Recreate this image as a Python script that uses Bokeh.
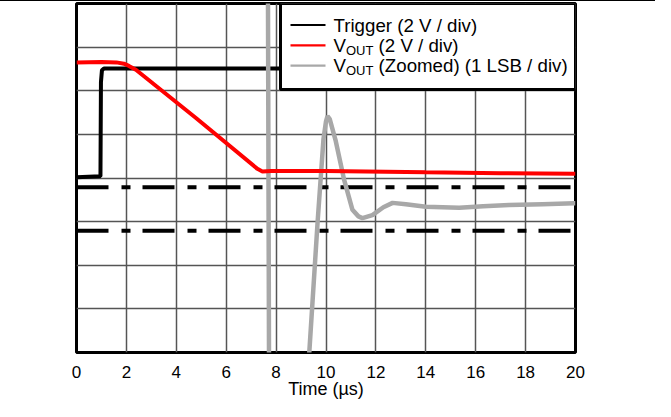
from bokeh.plotting import figure
from bokeh.models import FixedTicker, BoxAnnotation, Div, Range1d
from bokeh.layouts import column
from bokeh.core.properties import value
from bokeh.embed import file_html
from bokeh.resources import INLINE

# ---------------- data (time in µs, amplitude in screen divisions) ----------------
x_ticks = [0, 2, 4, 6, 8, 10, 12, 14, 16, 18, 20]
y_grid = [0, 1, 2, 3, 4, 5, 6, 7, 8]

trigger_t = [0.0, 0.96, 0.98, 1.02, 1.10, 20.0]
trigger_v = [4.02, 4.04, 6.20, 6.47, 6.51, 6.51]

vout_t = [0.0, 1.0, 1.6, 1.9, 2.1, 2.38, 4.8, 7.25, 7.45, 7.8, 10.0, 14.0, 17.0, 20.0]
vout_v = [6.65, 6.66, 6.65, 6.62, 6.57, 6.48, 5.37, 4.21, 4.15, 4.16, 4.16, 4.13, 4.11, 4.10]

zoom_t = [7.67, 7.72, 9.22, 9.33, 9.66, 9.90, 10.00, 10.06, 10.15, 10.39, 10.73,
          11.06, 11.30, 11.46, 11.86, 12.30, 12.67, 13.2, 14.0, 15.34, 16.3,
          17.34, 18.68, 19.95, 20.0]
zoom_v = [9.0, -1.0, -1.0, 0.0, 2.96, 4.9, 5.3, 5.42, 5.35, 4.85, 3.95,
          3.27, 3.12, 3.08, 3.15, 3.33, 3.43, 3.40, 3.34, 3.32, 3.35,
          3.38, 3.40, 3.42, 3.42]

band_levels = [3.79, 2.79]

x_title = "Time (µs)"
legend_texts = ["Trigger (2 V / div)", "(2 V / div)", "(Zoomed) (1 LSB / div)"]
legend_colors = ["black", "red", "#a8a8a8"]

FONT = "Liberation Sans"
X0, X1, Y0, Y1 = 0, 20, 0, 8
FRAME_W, FRAME_H = 499, 349

p = figure(width=655, height=400, x_range=Range1d(X0, X1), y_range=Range1d(Y0, Y1),
           output_backend="svg", toolbar_location=None,
           min_border_left=76, min_border_right=80, min_border_top=2, min_border_bottom=49)
p.background_fill_color = "white"
p.border_fill_color = "white"
p.outline_line_color = "black"
p.outline_line_width = 3

p.xgrid.ticker = FixedTicker(ticks=x_ticks)
p.ygrid.ticker = FixedTicker(ticks=y_grid)
p.grid.grid_line_color = "#555555"
p.grid.grid_line_width = 1.5
p.grid.grid_line_alpha = 1.0

p.yaxis.visible = False
ax = p.xaxis[0]
ax.ticker = FixedTicker(ticks=x_ticks)
ax.axis_line_color = None
ax.major_tick_line_color = None
ax.minor_tick_line_color = None
ax.major_label_standoff = 7
ax.major_label_text_font = FONT
ax.major_label_text_font_size = "17px"
ax.major_label_text_color = "black"
ax.axis_label = x_title
ax.axis_label_text_font = FONT
ax.axis_label_text_font_size = "18px"
ax.axis_label_text_font_style = "normal"
ax.axis_label_text_color = "black"
ax.axis_label_standoff = -2

PXX = (X1 - X0) / FRAME_W
PXY = (Y1 - Y0) / FRAME_H

# dash-dot error band
for lv in band_levels:
    p.line([X0, X1], [lv, lv], line_color="black", line_width=4, line_dash="32 13 9 12")

p.line(trigger_t, trigger_v, line_color="black", line_width=4)
p.line(zoom_t, zoom_v, line_color="#a8a8a8", line_width=4.5)
p.line(vout_t, vout_v, line_color="red", line_width=4)

# ---------------- legend (manual, to allow subscripts) ----------------
box_left = X1 - 295 * PXX
box_bottom = Y1 - 86 * PXY
p.add_layout(BoxAnnotation(left=box_left, right=X1, top=Y1, bottom=box_bottom,
                           fill_color="white", fill_alpha=1.0,
                           line_color="black", line_width=3, line_alpha=1.0))
row_y = [Y1 - (21.5 + 20.3 * i) * PXY for i in range(3)]
seg_x0 = box_left + 10 * PXX
seg_x1 = box_left + 45 * PXX
txt_x = box_left + 53 * PXX
for i in range(3):
    r = p.segment([seg_x0], [row_y[i]], [seg_x1], [row_y[i]],
                  line_color=legend_colors[i], line_width=2.2)
    r.level = "overlay"

def txt(x, y, s, size, xoff=0):
    r = p.text([x], [y], text=[s], text_font=value(FONT), text_font_size=size,
               text_baseline="middle", text_align="left", text_color="black", x_offset=xoff)
    r.level = "overlay"

txt(txt_x, row_y[0], legend_texts[0], "18.7px")
for i in (1, 2):
    txt(txt_x, row_y[i], "V", "18.7px")
    txt(txt_x, row_y[i] - 5 * PXY, "OUT", "13px", xoff=12.5)
    txt(txt_x, row_y[i], legend_texts[i], "18.7px", xoff=12.5 + 27.4 + 5.2)

top_rule = Div(text="", width=655, height=1, margin=0,
               styles={"background-color": "black"})
layout = column(top_rule, p, spacing=0)

open("out.html", "w").write(file_html(layout, INLINE))
